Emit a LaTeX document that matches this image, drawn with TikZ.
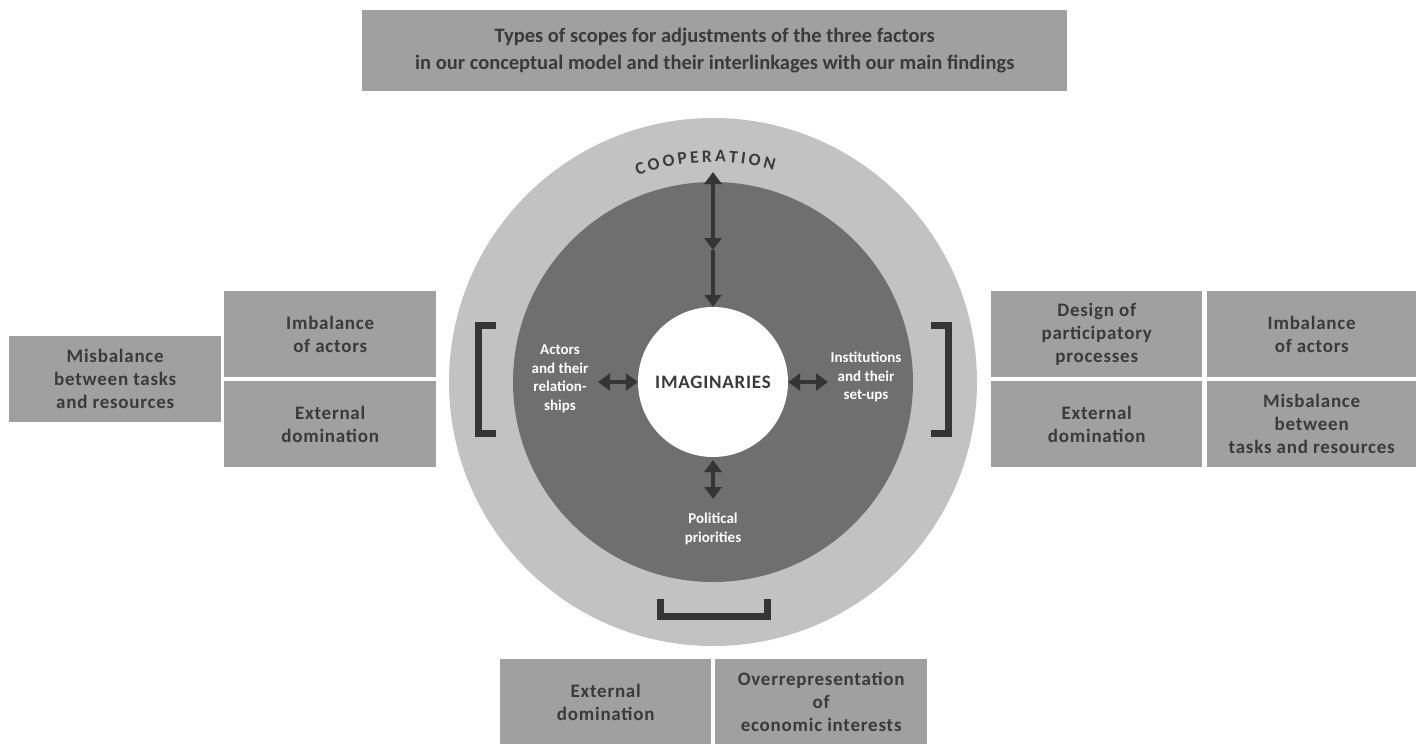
\documentclass[tikz,border=0pt]{standalone}
\usepackage{xcolor}
\usepackage{fontspec}
\usepackage{tikz}
\usetikzlibrary{arrows.meta,decorations.text}
\setmainfont{Carlito}
\newfontfamily\boxfont[LetterSpace=4]{Carlito}

\definecolor{ringgray}{HTML}{C2C2C2}
\definecolor{coregray}{HTML}{6F6F6F}
\definecolor{boxgray}{HTML}{A0A0A0}
\definecolor{inkgray}{HTML}{3A3A3A}
\definecolor{arrowgray}{HTML}{353535}

\tikzset{
  findbox/.style={fill=boxgray, text=inkgray, anchor=north west, inner sep=0pt,
    align=center, font=\boxfont\bfseries\fontsize{19}{23}\selectfont},
  innerlabel/.style={text=white, align=center, inner sep=0pt,
    font=\bfseries\fontsize{15}{18.5}\selectfont},
  linkarrow/.style={draw=arrowgray, line width=3.5pt, >={Triangle[width=17pt,length=12pt]}},
  bracket/.style={draw=arrowgray, line width=7pt, line join=miter}
}

\begin{document}
\begin{tikzpicture}[x=1pt,y=-1pt]
        \useasboundingbox (0,0) rectangle (1416,744);
        \def\cx{713};
        \def\cy{382};
        \coordinate (C) at (\cx,\cy);
        % title %
        \node[findbox, minimum width=705pt, minimum height=81pt,
              font=\bfseries\fontsize{20.5}{27}\selectfont] (title) at (362,10)
              {Types of scopes for adjustments of the three factors\\
               in our conceptual model and their interlinkages with our main findings};

        % the three circles %
        \fill[ringgray] (C) circle[radius=264pt]; %cooperation%
        \fill[coregray] (C) circle[radius=200pt];
        \node[circle, fill=white, minimum size=150pt, inner sep=0pt, text=inkgray,
              font=\boxfont\bfseries\fontsize{19}{23}\selectfont] (imag) at (C) {IMAGINARIES};

        \path[decorate, decoration={text along path, text align={fit to path},
              text={|\bfseries\fontsize{17.5}{22}\selectfont\color{inkgray}|COOPERATION}}]
              ([shift={(C)}]110:220pt) arc[start angle=110, end angle=74, radius=220pt];

        % labels inside the dark ring %
        \node[innerlabel] (actors) at (560,379) {Actors\\and their\\relation-\\ships};
        \node[innerlabel] (instit) at (866,377) {Institutions\\and their\\set-ups};
        \node[innerlabel] (polit) at (713,529) {Political\\priorities};

        % arrows %
        \coordinate (coopTop) at (\cx,172);
        \coordinate (coopMid) at (\cx,250);
        \coordinate (actEnd) at (598,\cy);
        \coordinate (instEnd) at (828,\cy);
        \coordinate (polTop) at (\cx,460);
        \coordinate (polEnd) at (\cx,499);
        \draw[linkarrow, <->] (coopTop) -- (coopMid);
        \draw[linkarrow, ->] (coopMid) -- (imag.north);
        \draw[linkarrow, <->] (actEnd) -- (imag.west);
        \draw[linkarrow, <->] (imag.east) -- (instEnd);
        \draw[linkarrow, <->] (polTop) -- (polEnd);

        % brackets %
        \draw[bracket] (496,325.5) -- (478.5,325.5) -- (478.5,433.5) -- (496,433.5);
        \draw[bracket] (931,325.5) -- (948.5,325.5) -- (948.5,433.5) -- (931,433.5);
        \draw[bracket] (660.5,599) -- (660.5,616.5) -- (767.5,616.5) -- (767.5,599);

        % left boxes %
        \node[findbox, minimum width=212pt, minimum height=86pt] (lmis) at (9,336) {Misbalance\\between tasks\\and resources};
        \node[findbox, minimum width=212pt, minimum height=86pt] (limb) at (224,291) {Imbalance\\of actors};
        \node[findbox, minimum width=212pt, minimum height=86pt] (lext) at (224,381) {External\\domination};

        % right boxes %
        \node[findbox, minimum width=211pt, minimum height=86pt] (rdes) at (991,291) {Design of\\participatory\\processes};
        \node[findbox, minimum width=209pt, minimum height=86pt] (rimb) at (1207,291) {Imbalance\\of actors};
        \node[findbox, minimum width=211pt, minimum height=86pt] (rext) at (991,381) {External\\domination};
        \node[findbox, minimum width=209pt, minimum height=86pt] (rmis) at (1207,381) {Misbalance\\between\\tasks and resources};

        % bottom boxes %
        \node[findbox, minimum width=211pt, minimum height=86pt] (bext) at (500,659) {External\\domination};
        \node[findbox, minimum width=212pt, minimum height=86pt] (bove) at (715,659) {Overrepresentation\\of\\economic interests};
\end{tikzpicture}
\end{document}
